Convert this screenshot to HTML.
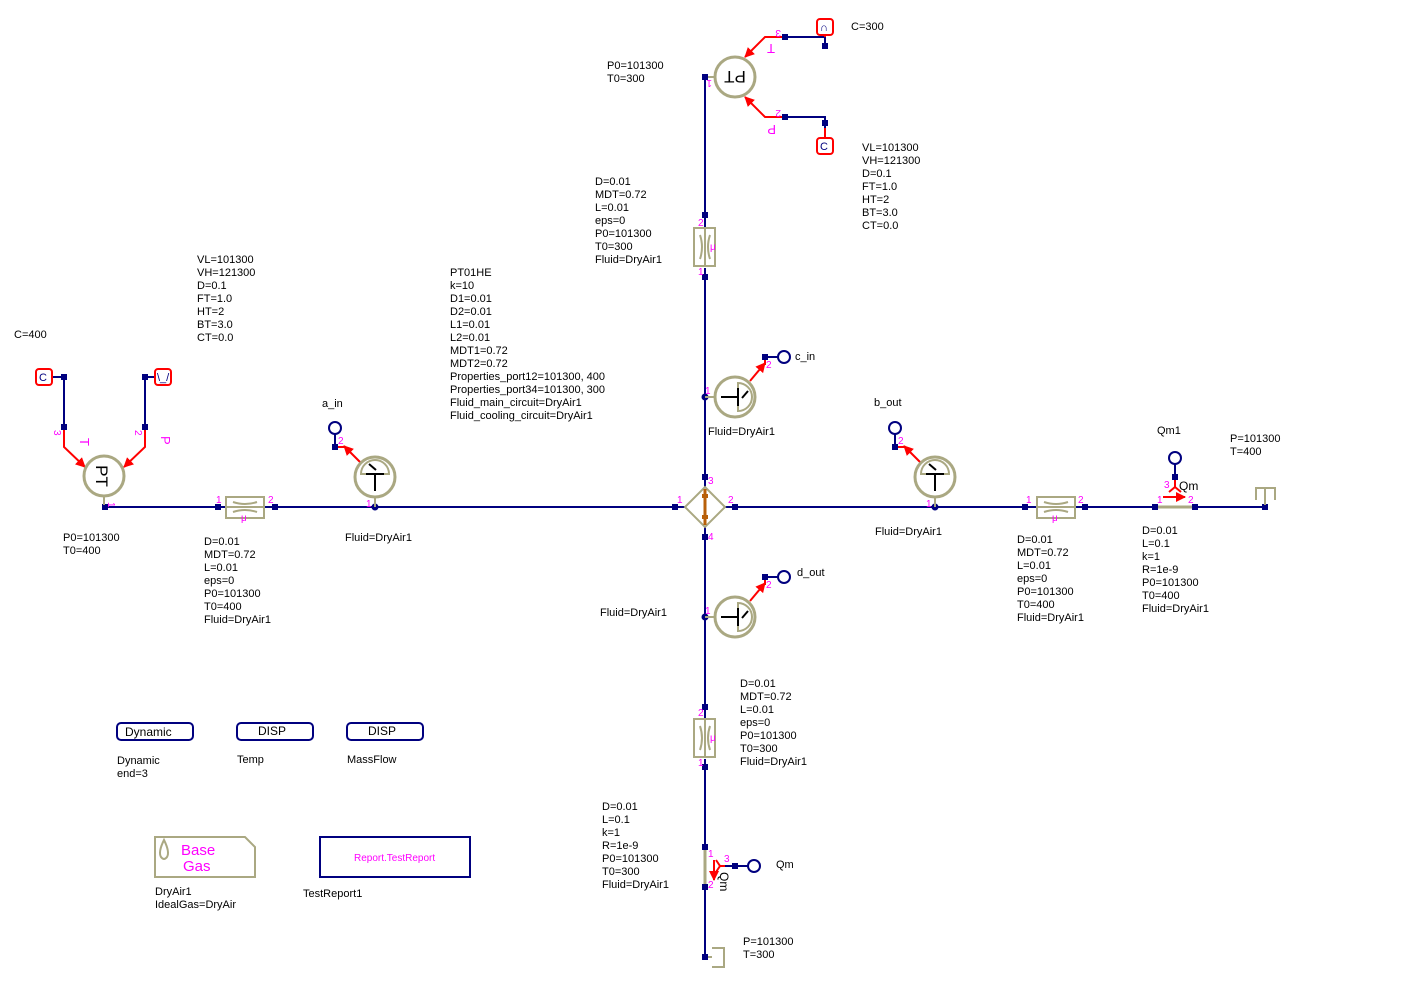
<!DOCTYPE html>
<html><head><meta charset="utf-8">
<style>
html,body{margin:0;padding:0;background:#fff;}
svg{display:block;}
text{font-family:"Liberation Sans",sans-serif;font-size:11px;fill:#000;}
.m{fill:#ff00ff;font-size:10px;}
</style></head>
<body>
<svg width="1420" height="987" viewBox="0 0 1420 987" xmlns="http://www.w3.org/2000/svg">
<defs>
<marker id="ar" viewBox="0 0 10 10" refX="9" refY="5" markerWidth="5" markerHeight="5" orient="auto"><path d="M0,0 L10,5 L0,10 z" fill="#f00"/></marker>
<g id="pl">
 <rect x="-19" y="-10" width="38" height="21" fill="#fff" stroke="#aaa882" stroke-width="2"/>
 <line x1="-19" y1="0" x2="19" y2="0" stroke="#aaa882" stroke-width="2"/>
 <path d="M-12,-5 Q0,-1 12,-5 M-12,5 Q0,1 12,5" fill="none" stroke="#aaa882" stroke-width="2"/>
</g>
<g id="tsens">
 <circle r="20" fill="#fff" stroke="#aaa882" stroke-width="3"/>
 <path d="M-14,-3 A14,14 0 0 1 14,-3 Z" fill="none" stroke="#aaa882" stroke-width="2"/>
 <line x1="-9" y1="-3" x2="9" y2="-3" stroke="#000" stroke-width="2"/>
 <line x1="0" y1="-3" x2="0" y2="14" stroke="#000" stroke-width="2"/>
 <line x1="-6" y1="-13" x2="1" y2="-7" stroke="#000" stroke-width="2"/>
 <line x1="0" y1="20" x2="0" y2="30" stroke="#aaa882" stroke-width="2"/>
</g>
<g id="lbox">
 <rect x="-8" y="-8" width="16" height="16" rx="3" fill="#fff" stroke="#f00" stroke-width="2"/>
</g>
<g id="sc">
 <circle r="6" fill="#fff" stroke="#00007f" stroke-width="2"/>
</g>
</defs>

<g stroke="#00007f" stroke-width="2" fill="none">
 <line x1="105" y1="507" x2="226" y2="507"/>
 <line x1="265" y1="507" x2="685" y2="507"/>
 <line x1="725" y1="507" x2="1037" y2="507"/>
 <line x1="1075" y1="507" x2="1155" y2="507"/>
 <line x1="1195" y1="507" x2="1265" y2="507"/>
 <line x1="705" y1="77" x2="705" y2="227"/>
 <line x1="705" y1="268" x2="705" y2="487"/>
 <line x1="705" y1="527" x2="705" y2="718"/>
 <line x1="705" y1="759" x2="705" y2="847"/>
 <line x1="705" y1="887" x2="705" y2="957"/>
 <polyline points="52,377 64,377 64,427"/>
 <polyline points="155,377 145,377 145,427"/>
 <polyline points="785,37 825,37 825,46"/>
 <polyline points="785,117 825,117 825,128"/>
 <line x1="335" y1="434" x2="335" y2="447"/>
 <line x1="895" y1="434" x2="895" y2="447"/>
 <line x1="765" y1="357" x2="778" y2="357"/>
 <line x1="765" y1="577" x2="778" y2="577"/>
 <line x1="1175" y1="464" x2="1175" y2="477"/>
 <line x1="725" y1="866" x2="748" y2="866"/>
</g>

<g stroke="#f00" stroke-width="2" fill="none">
 <polyline points="64,427 64,447 85,467" marker-end="url(#ar)"/>
 <polyline points="145,427 145,447 124,467" marker-end="url(#ar)"/>
 <polyline points="785,37 765,37 745,57" marker-end="url(#ar)"/>
 <polyline points="785,117 765,117 745,97" marker-end="url(#ar)"/>
 <line x1="825" y1="128" x2="825" y2="138"/>
 <line x1="825" y1="37" x2="825" y2="35"/>
 <line x1="360" y1="462" x2="344" y2="446" marker-end="url(#ar)"/>
 <line x1="335" y1="447" x2="345" y2="447"/>
 <line x1="920" y1="462" x2="904" y2="446" marker-end="url(#ar)"/>
 <line x1="895" y1="447" x2="905" y2="447"/>
 <line x1="750" y1="381" x2="765" y2="363" marker-end="url(#ar)"/>
 <line x1="765" y1="357" x2="765" y2="365"/>
 <line x1="750" y1="601" x2="765" y2="583" marker-end="url(#ar)"/>
 <line x1="765" y1="577" x2="765" y2="585"/>
 <path d="M1175,477 L1175,487 M1169,492 L1175,487 L1181,492"/>
 <line x1="1163" y1="497" x2="1185" y2="497" marker-end="url(#ar)"/>
 <path d="M725,866 L720,866 M716,860 L720,866 L716,872"/>
 <line x1="714" y1="860" x2="714" y2="880" marker-end="url(#ar)"/>
</g>

<g fill="#00007f">
 <rect x="102" y="504" width="6" height="6"/>
 <rect x="215" y="504" width="6" height="6"/>
 <rect x="272" y="504" width="6" height="6"/>
 <circle cx="375" cy="507" r="3.5"/>
 <rect x="672" y="504" width="6" height="6"/>
 <rect x="732" y="504" width="6" height="6"/>
 <rect x="702" y="474" width="6" height="6"/>
 <rect x="702" y="534" width="6" height="6"/>
 <circle cx="935" cy="507" r="3.5"/>
 <rect x="1022" y="504" width="6" height="6"/>
 <rect x="1082" y="504" width="6" height="6"/>
 <rect x="1152" y="504" width="6" height="6"/>
 <rect x="1192" y="504" width="6" height="6"/>
 <rect x="1262" y="504" width="6" height="6"/>
 <rect x="702" y="74" width="6" height="6"/>
 <rect x="702" y="212" width="6" height="6"/>
 <rect x="702" y="274" width="6" height="6"/>
 <circle cx="705" cy="397" r="3.5"/>
 <circle cx="705" cy="617" r="3.5"/>
 <rect x="702" y="704" width="6" height="6"/>
 <rect x="702" y="764" width="6" height="6"/>
 <rect x="702" y="844" width="6" height="6"/>
 <rect x="702" y="884" width="6" height="6"/>
 <rect x="702" y="954" width="6" height="6"/>
 <rect x="61" y="374" width="6" height="6"/>
 <rect x="61" y="424" width="6" height="6"/>
 <rect x="142" y="374" width="6" height="6"/>
 <rect x="142" y="424" width="6" height="6"/>
 <rect x="782" y="34" width="6" height="6"/>
 <rect x="822" y="43" width="6" height="6"/>
 <rect x="782" y="114" width="6" height="6"/>
 <rect x="822" y="120" width="6" height="6"/>
 <rect x="332" y="444" width="6" height="6"/>
 <rect x="892" y="444" width="6" height="6"/>
 <rect x="762" y="354" width="6" height="6"/>
 <rect x="762" y="574" width="6" height="6"/>
 <rect x="1172" y="474" width="6" height="6"/>
 <rect x="732" y="863" width="6" height="6"/>
</g>

<use href="#pl" transform="translate(245,507)"/>
<use href="#pl" transform="translate(1056,507)"/>
<use href="#pl" transform="translate(705,247) rotate(90)"/>
<use href="#pl" transform="translate(705,738) rotate(90)"/>

<line x1="1158" y1="507" x2="1192" y2="507" stroke="#aaa882" stroke-width="3"/>
<line x1="705" y1="850" x2="705" y2="884" stroke="#aaa882" stroke-width="3"/>

<g stroke="#aaa882" stroke-width="2" fill="none">
 <polyline points="1256,500 1256,488 1275,488 1275,500"/>
 <line x1="1265" y1="488" x2="1265" y2="505"/>
 <polyline points="712,948 724,948 724,967 712,967"/>
 <line x1="708" y1="957" x2="712" y2="957"/>
</g>

<g>
 <circle cx="104" cy="476" r="20" fill="#fff" stroke="#aaa882" stroke-width="3"/>
 <line x1="104" y1="496" x2="104" y2="505" stroke="#aaa882" stroke-width="2"/>
 <text transform="translate(96,476) rotate(90)" text-anchor="middle" style="font-size:17px">PT</text>
 <circle cx="735" cy="77" r="20" fill="#fff" stroke="#aaa882" stroke-width="3"/>
 <line x1="708" y1="77" x2="715" y2="77" stroke="#aaa882" stroke-width="2"/>
 <text transform="translate(735,71) rotate(180)" text-anchor="middle" style="font-size:17px">PT</text>
</g>

<use href="#tsens" transform="translate(375,477)"/>
<use href="#tsens" transform="translate(935,477)"/>
<use href="#tsens" transform="translate(735,397) rotate(90)"/>
<use href="#tsens" transform="translate(735,617) rotate(90)"/>

<polygon points="705,487 725,507 705,527 685,507" fill="#fff" stroke="#aaa882" stroke-width="2"/>
<line x1="705" y1="489" x2="705" y2="525" stroke="#b8600a" stroke-width="3"/>
<rect x="702" y="494" width="6" height="4" fill="#b8600a"/>
<rect x="702" y="515" width="6" height="4" fill="#b8600a"/>

<use href="#lbox" transform="translate(44,377)"/>
<text x="39" y="381" style="fill:#00007f">C</text>
<use href="#lbox" transform="translate(163,377)"/>
<text x="157" y="381" style="fill:#00007f">\_/</text>
<use href="#lbox" transform="translate(825,27)"/>
<text x="820" y="31" style="fill:#00007f">∩</text>
<use href="#lbox" transform="translate(825,146)"/>
<text x="820" y="150" style="fill:#00007f">C</text>

<use href="#sc" transform="translate(335,428)"/>
<use href="#sc" transform="translate(895,428)"/>
<use href="#sc" transform="translate(784,357)"/>
<use href="#sc" transform="translate(784,577)"/>
<use href="#sc" transform="translate(1175,458)"/>
<use href="#sc" transform="translate(754,866)"/>

<text class="m" transform="translate(108,502) rotate(90)">1</text>
<text class="m" x="216" y="503">1</text>
<text class="m" x="268" y="503">2</text>
<text class="m" x="241" y="521">μ</text>
<text class="m" x="366" y="507">1</text>
<text class="m" x="338" y="444">2</text>
<text class="m" transform="translate(54,430) rotate(90)">3</text>
<text class="m" transform="translate(135,430) rotate(90)">2</text>
<text class="m" transform="translate(80,438) rotate(90)" style="font-size:13px">T</text>
<text class="m" transform="translate(161,436) rotate(90)" style="font-size:13px">P</text>
<text class="m" x="677" y="503">1</text>
<text class="m" x="728" y="503">2</text>
<text class="m" x="708" y="484">3</text>
<text class="m" x="708" y="540">4</text>
<text class="m" x="926" y="507">1</text>
<text class="m" x="898" y="444">2</text>
<text class="m" x="1026" y="503">1</text>
<text class="m" x="1078" y="503">2</text>
<text class="m" x="1052" y="521">μ</text>
<text class="m" x="1157" y="503">1</text>
<text class="m" x="1188" y="503">2</text>
<text class="m" x="1164" y="488">3</text>
<text x="1179" y="490" style="font-size:12px">Qm</text>
<text class="m" x="698" y="226">2</text>
<text class="m" x="698" y="275">1</text>
<text class="m" x="710" y="250">μ</text>
<text class="m" x="698" y="716">2</text>
<text class="m" x="698" y="766">1</text>
<text class="m" x="710" y="741">μ</text>
<text class="m" x="705" y="394">1</text>
<text class="m" x="705" y="614">1</text>
<text class="m" x="766" y="368">2</text>
<text class="m" x="766" y="588">2</text>
<text class="m" x="708" y="857">1</text>
<text class="m" x="708" y="888">2</text>
<text class="m" x="724" y="862">3</text>
<text x="720" y="880" style="font-size:12px" transform="rotate(90 724 876)">Qm</text>
<text class="m" transform="translate(712,80) rotate(180)">1</text>
<text class="m" transform="translate(781,30) rotate(180)">3</text>
<text class="m" transform="translate(781,110) rotate(180)">2</text>
<text class="m" transform="translate(775,44) rotate(180)" style="font-size:13px">T</text>
<text class="m" transform="translate(776,125) rotate(180)" style="font-size:13px">P</text>

<g fill="#fff" stroke="#00007f" stroke-width="2">
 <rect x="117" y="723" width="76" height="17" rx="4"/>
 <rect x="237" y="723" width="76" height="17" rx="4"/>
 <rect x="347" y="723" width="76" height="17" rx="4"/>
 <rect x="320" y="837" width="150" height="40"/>
</g>
<text x="125" y="736" style="font-size:12px">Dynamic</text>
<text x="258" y="735" style="font-size:12px">DISP</text>
<text x="368" y="735" style="font-size:12px">DISP</text>
<text x="354" y="861" style="fill:#ff00ff;font-size:10px">Report.TestReport</text>
<polygon points="155,837 245,837 255,847 255,877 155,877" fill="#fff" stroke="#aaa882" stroke-width="2"/>
<path d="M164,840 Q158,852 161,857 Q164,861 167,857 Q170,852 164,840 Z" fill="none" stroke="#aaa882" stroke-width="2"/>
<text x="181" y="855" style="fill:#ff00ff;font-size:15px">Base</text>
<text x="183" y="871" style="fill:#ff00ff;font-size:15px">Gas</text>

<text x="117" y="764">Dynamic</text><text x="117" y="777">end=3</text>
<text x="237" y="763">Temp</text>
<text x="347" y="763">MassFlow</text>
<text x="155" y="895">DryAir1</text><text x="155" y="908">IdealGas=DryAir</text>
<text x="303" y="897">TestReport1</text>

<text x="14" y="338">C=400</text>
<text x="197" y="263">VL=101300</text><text x="197" y="276">VH=121300</text><text x="197" y="289">D=0.1</text><text x="197" y="302">FT=1.0</text><text x="197" y="315">HT=2</text><text x="197" y="328">BT=3.0</text><text x="197" y="341">CT=0.0</text>
<text x="450" y="276">PT01HE</text><text x="450" y="289">k=10</text><text x="450" y="302">D1=0.01</text><text x="450" y="315">D2=0.01</text><text x="450" y="328">L1=0.01</text><text x="450" y="341">L2=0.01</text><text x="450" y="354">MDT1=0.72</text><text x="450" y="367">MDT2=0.72</text><text x="450" y="380">Properties_port12=101300, 400</text><text x="450" y="393">Properties_port34=101300, 300</text><text x="450" y="406">Fluid_main_circuit=DryAir1</text><text x="450" y="419">Fluid_cooling_circuit=DryAir1</text>
<text x="322" y="407">a_in</text>
<text x="63" y="541">P0=101300</text><text x="63" y="554">T0=400</text>
<text x="204" y="545">D=0.01</text><text x="204" y="558">MDT=0.72</text><text x="204" y="571">L=0.01</text><text x="204" y="584">eps=0</text><text x="204" y="597">P0=101300</text><text x="204" y="610">T0=400</text><text x="204" y="623">Fluid=DryAir1</text>
<text x="345" y="541">Fluid=DryAir1</text>
<text x="607" y="69">P0=101300</text><text x="607" y="82">T0=300</text>
<text x="851" y="30">C=300</text>
<text x="862" y="151">VL=101300</text><text x="862" y="164">VH=121300</text><text x="862" y="177">D=0.1</text><text x="862" y="190">FT=1.0</text><text x="862" y="203">HT=2</text><text x="862" y="216">BT=3.0</text><text x="862" y="229">CT=0.0</text>
<text x="595" y="185">D=0.01</text><text x="595" y="198">MDT=0.72</text><text x="595" y="211">L=0.01</text><text x="595" y="224">eps=0</text><text x="595" y="237">P0=101300</text><text x="595" y="250">T0=300</text><text x="595" y="263">Fluid=DryAir1</text>
<text x="795" y="360">c_in</text>
<text x="708" y="435">Fluid=DryAir1</text>
<text x="874" y="406">b_out</text>
<text x="875" y="535">Fluid=DryAir1</text>
<text x="1157" y="434">Qm1</text>
<text x="1230" y="442">P=101300</text><text x="1230" y="455">T=400</text>
<text x="1017" y="543">D=0.01</text><text x="1017" y="556">MDT=0.72</text><text x="1017" y="569">L=0.01</text><text x="1017" y="582">eps=0</text><text x="1017" y="595">P0=101300</text><text x="1017" y="608">T0=400</text><text x="1017" y="621">Fluid=DryAir1</text>
<text x="1142" y="534">D=0.01</text><text x="1142" y="547">L=0.1</text><text x="1142" y="560">k=1</text><text x="1142" y="573">R=1e-9</text><text x="1142" y="586">P0=101300</text><text x="1142" y="599">T0=400</text><text x="1142" y="612">Fluid=DryAir1</text>
<text x="797" y="576">d_out</text>
<text x="600" y="616">Fluid=DryAir1</text>
<text x="740" y="687">D=0.01</text><text x="740" y="700">MDT=0.72</text><text x="740" y="713">L=0.01</text><text x="740" y="726">eps=0</text><text x="740" y="739">P0=101300</text><text x="740" y="752">T0=300</text><text x="740" y="765">Fluid=DryAir1</text>
<text x="602" y="810">D=0.01</text><text x="602" y="823">L=0.1</text><text x="602" y="836">k=1</text><text x="602" y="849">R=1e-9</text><text x="602" y="862">P0=101300</text><text x="602" y="875">T0=300</text><text x="602" y="888">Fluid=DryAir1</text>
<text x="776" y="868">Qm</text>
<text x="743" y="945">P=101300</text><text x="743" y="958">T=300</text>
</svg>
</body></html>
